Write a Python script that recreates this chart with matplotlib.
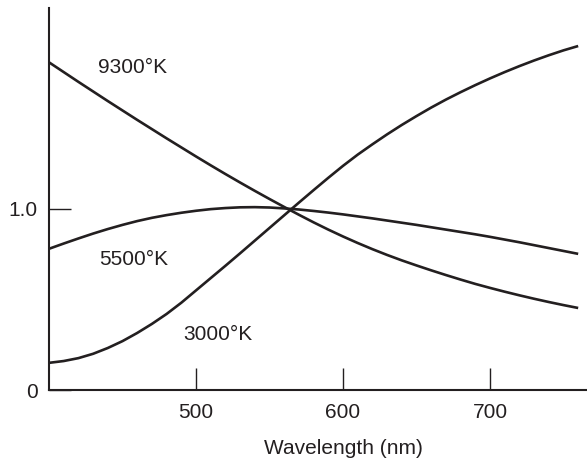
import matplotlib.pyplot as plt

plt.rcParams['font.family'] = ['Liberation Sans', 'DejaVu Sans']

# Relative spectral power (wavelength in nm, 10 nm steps)
wavelength = [400, 410, 420, 430, 440, 450, 460, 470, 480, 490,
              500, 510, 520, 530, 540, 550, 560, 570, 580, 590,
              600, 610, 620, 630, 640, 650, 660, 670, 680, 690,
              700, 710, 720, 730, 740, 750, 760]
k9300 = [1.810, 1.756, 1.702, 1.649, 1.596, 1.544, 1.492, 1.441, 1.390, 1.340,
         1.290, 1.241, 1.193, 1.146, 1.100, 1.055, 1.011, 0.968, 0.926, 0.886,
         0.848, 0.812, 0.778, 0.746, 0.716, 0.688, 0.661, 0.635, 0.610, 0.586,
         0.564, 0.543, 0.523, 0.504, 0.486, 0.469, 0.453]
k5500 = [0.780, 0.809, 0.837, 0.864, 0.889, 0.912, 0.933, 0.951, 0.966, 0.979,
         0.990, 0.999, 1.005, 1.009, 1.010, 1.008, 1.003, 0.997, 0.989, 0.980,
         0.970, 0.959, 0.948, 0.936, 0.924, 0.912, 0.899, 0.886, 0.873, 0.860,
         0.846, 0.831, 0.816, 0.800, 0.784, 0.768, 0.752]
k3000 = [0.150, 0.160, 0.176, 0.200, 0.232, 0.270, 0.315, 0.365, 0.420, 0.482,
         0.550, 0.618, 0.686, 0.755, 0.825, 0.895, 0.965, 1.035, 1.104, 1.172,
         1.238, 1.300, 1.357, 1.412, 1.464, 1.513, 1.560, 1.604, 1.645, 1.684,
         1.721, 1.756, 1.789, 1.820, 1.849, 1.876, 1.900]

labels = ['9300°K', '5500°K', '3000°K']
label_pos = [(456.7, 1.78), (457.4, 0.72), (514.8, 0.307)]

ink = '#231f20'

fig = plt.figure(figsize=(5.87, 4.61), dpi=100)
ax = fig.add_axes([49 / 587, 71 / 461, 538 / 587, 382 / 461])

for series in [k9300, k5500, k3000]:
    ax.plot(wavelength, series, color=ink, lw=1.9, solid_capstyle='butt')

for text, (x, y) in zip(labels, label_pos):
    ax.text(x, y, text, ha='center', va='center', fontsize=15, color=ink)

ax.set_xlim(400, 766)
ax.set_ylim(0, 2.11)

ax.set_xticks([500, 600, 700])
ax.set_yticks([0, 1.0])
ax.set_yticklabels(['0', '1.0'])
ax.tick_params(direction='in', length=15.8, width=1.0, color=ink,
               labelsize=15, labelcolor=ink)
ax.tick_params(axis='x', pad=9)
ax.tick_params(axis='y', pad=8)

for side in ['top', 'right']:
    ax.spines[side].set_visible(False)
for side in ['left', 'bottom']:
    ax.spines[side].set_linewidth(1.5)
    ax.spines[side].set_color(ink)

ax.set_xlabel('Wavelength (nm)', fontsize=15, color=ink, va='center')
ax.xaxis.set_label_coords(600, -0.152, transform=ax.get_xaxis_transform())

fig.savefig('out.png', dpi=100)
